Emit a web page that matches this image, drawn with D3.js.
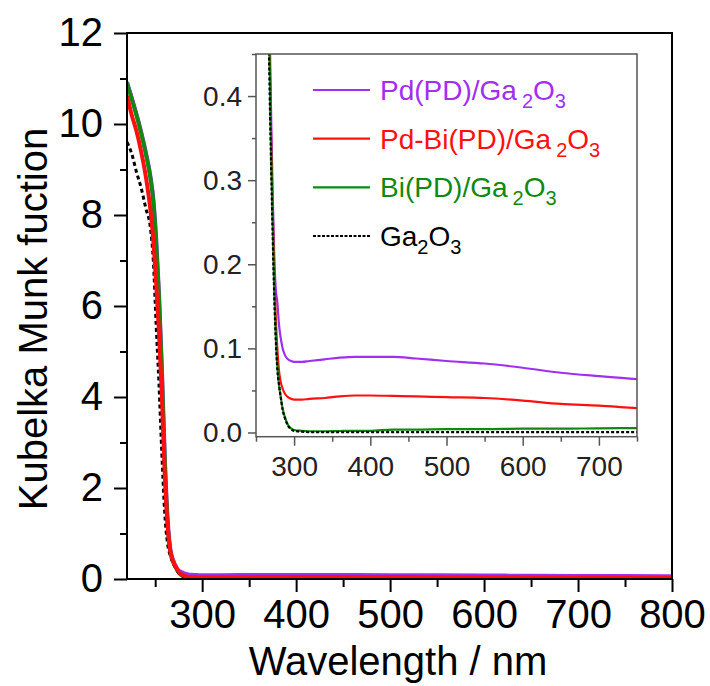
<!DOCTYPE html>
<html>
<head>
<meta charset="utf-8">
<script src="https://cdn.jsdelivr.net/npm/d3@7"></script>
<style>
  body { margin: 0; background: #fff; }
  svg { display: block; font-family: "Liberation Sans", Arial, sans-serif; }
</style>
</head>
<body>
<svg id="chart" width="710" height="686"></svg>
<script>
// wavelength grid (nm), shared by all series
const wavelengths = [220, 225, 230, 235, 240, 245, 248, 251, 254, 257, 260, 263, 266, 268, 270, 272, 274, 276, 278, 280,
  282, 285, 288, 292, 296, 300, 310, 320, 340, 360, 380, 400, 430, 460, 500, 550, 600, 650, 700, 750, 800];

const pdValues = [10.92, 10.58, 10.22, 9.83, 9.38, 8.84, 8.35, 7.5, 6.3, 4.7, 2.8, 1.4, 0.68, 0.48, 0.37, 0.28, 0.21, 0.17, 0.155, 0.13,
  0.115, 0.1, 0.092, 0.087, 0.085, 0.084, 0.084, 0.085, 0.087, 0.089, 0.09, 0.09, 0.09, 0.088, 0.085, 0.082, 0.077, 0.071, 0.067, 0.0635, 0.061];

const pdBiValues = [10.62, 10.2, 9.85, 9.4, 8.85, 8.1, 7.45, 6.5, 5.45, 4.1, 2.4, 1.25, 0.62, 0.45, 0.34, 0.26, 0.19, 0.135, 0.1, 0.075,
  0.062, 0.052, 0.046, 0.042, 0.04, 0.039, 0.039, 0.04, 0.041, 0.043, 0.044, 0.044, 0.0435, 0.043, 0.042, 0.041, 0.038, 0.034, 0.032, 0.029, 0.027];

const biValues = [10.9, 10.55, 10.2, 9.8, 9.35, 8.8, 8.3, 7.4, 6.2, 4.6, 2.7, 1.3, 0.62, 0.44, 0.33, 0.25, 0.17, 0.115, 0.08, 0.058,
  0.045, 0.028, 0.018, 0.009, 0.005, 0.003, 0.002, 0.0015, 0.0015, 0.0018, 0.002, 0.002, 0.0035, 0.0035, 0.004, 0.004, 0.0045, 0.0045, 0.005, 0.0052, 0.0055];

const gaValues = [9.6, 9.35, 8.95, 8.6, 8.15, 7.7, 7.0, 5.6, 4.3, 2.8, 1.5, 0.8, 0.52, 0.4, 0.31, 0.23, 0.16, 0.11, 0.075, 0.058,
  0.045, 0.027, 0.017, 0.008, 0.004, 0.002, 0.001, 0.0005, 0.0005, 0.0005, 0.0005, 0.0005, 0.0005, 0.0005, 0.0005, 0.0005, 0.0005, 0.0005, 0.0005, 0.0005, 0.0005];

const mainXTicks = [300, 400, 500, 600, 700, 800];
const mainXMinor = [250, 350, 450, 550, 650, 750];
const mainYTicks = [0, 2, 4, 6, 8, 10, 12];
const mainYMinor = [1, 3, 5, 7, 9, 11];
const insetXTicks = [300, 400, 500, 600, 700];
const insetXMinor = [250, 350, 450, 550, 650, 750];
const insetYTicks = [0, 0.1, 0.2, 0.3, 0.4];
const insetYMinor = [0.05, 0.15, 0.25, 0.35, 0.45];

const series = [
  { name: "Pd(PD)/Ga", gap: true, values: pdValues, color: "#a030f0", dash: null },
  { name: "Pd-Bi(PD)/Ga", gap: true, values: pdBiValues, color: "#ff1010", dash: null },
  { name: "Bi(PD)/Ga", gap: true, values: biValues, color: "#118811", dash: null },
  { name: "Ga", gap: false, values: gaValues, color: "#000", dash: true }
];

const svg = d3.select("#chart");

function pts(s) { return wavelengths.map((w, i) => [w, s.values[i]]); }

/* ---------- main plot ---------- */
const x = d3.scaleLinear().domain([220, 800]).range([127, 672]);
const y = d3.scaleLinear().domain([0, 12]).range([579, 33]);

svg.append("clipPath").attr("id", "clipMain")
  .append("rect").attr("x", 127).attr("y", 33).attr("width", 545).attr("height", 546);

const mainLine = d3.line().x(d => x(d[0])).y(d => y(d[1])).curve(d3.curveMonotoneX);
const mainG = svg.append("g").attr("clip-path", "url(#clipMain)");
// draw order: purple, green, black, red
[series[0], series[2], series[3], series[1]].forEach(s => {
  mainG.append("path")
    .attr("d", mainLine(pts(s)))
    .attr("fill", "none")
    .attr("stroke", s.color)
    .attr("stroke-width", s.dash ? 3 : 4)
    .attr("stroke-dasharray", s.dash ? "4,3" : null);
});

function styleAxis(g, width, color) {
  g.select(".domain").remove();
  g.selectAll("line").attr("stroke", color).attr("stroke-width", width);
}

const xAxis = svg.append("g").attr("transform", "translate(0,579)")
  .call(d3.axisBottom(x).tickValues(mainXTicks).tickSize(13).tickPadding(8).tickFormat(d3.format("d")));
styleAxis(xAxis, 2, "#000");
xAxis.selectAll("text").attr("font-size", 40).attr("font-family", "Liberation Sans, Arial").attr("fill", "#000");
svg.append("g").attr("transform", "translate(0,579)")
  .call(d3.axisBottom(x).tickValues(mainXMinor).tickSize(8).tickFormat(""))
  .call(g => styleAxis(g, 2, "#000"));

const yAxis = svg.append("g").attr("transform", "translate(127,0)")
  .call(d3.axisLeft(y).tickValues(mainYTicks).tickSize(13).tickPadding(11).tickFormat(d3.format("d")));
styleAxis(yAxis, 2, "#000");
yAxis.selectAll("text").attr("font-size", 40).attr("font-family", "Liberation Sans, Arial").attr("fill", "#000");
svg.append("g").attr("transform", "translate(127,0)")
  .call(d3.axisLeft(y).tickValues(mainYMinor).tickSize(7).tickFormat(""))
  .call(g => styleAxis(g, 2, "#000"));

svg.append("rect").attr("x", 127).attr("y", 33).attr("width", 545).attr("height", 546)
  .attr("fill", "none").attr("stroke", "#000").attr("stroke-width", 2);

svg.append("text").attr("x", 398).attr("y", 675).attr("text-anchor", "middle")
  .attr("font-size", 40).text("Wavelength / nm");
svg.append("text").attr("transform", "translate(47,319) rotate(-90)").attr("text-anchor", "middle")
  .attr("font-size", 40).text("Kubelka Munk fuction");

/* ---------- inset ---------- */
const ix = d3.scaleLinear().domain([250, 750]).range([256, 637]);
const iy = d3.scaleLinear().domain([-0.005, 0.45]).range([436.7, 54]);

svg.append("rect").attr("x", 256).attr("y", 54).attr("width", 381).attr("height", 382.7).attr("fill", "#fff");

svg.append("clipPath").attr("id", "clipInset")
  .append("rect").attr("x", 256).attr("y", 54).attr("width", 381).attr("height", 382.7);

const insetLine = d3.line().x(d => ix(d[0])).y(d => iy(d[1])).curve(d3.curveMonotoneX);
const insetG = svg.append("g").attr("clip-path", "url(#clipInset)");
[series[0], series[1], series[2], series[3]].forEach(s => {
  insetG.append("path")
    .attr("d", insetLine(pts(s).filter(d => d[0] >= 250)))
    .attr("fill", "none")
    .attr("stroke", s.color)
    .attr("stroke-width", 2.2)
    .attr("stroke-dasharray", s.dash ? "3,2" : null);
});

const ixAxis = svg.append("g").attr("transform", "translate(0,436.7)")
  .call(d3.axisBottom(ix).tickValues(insetXTicks).tickSize(9).tickPadding(10).tickFormat(d3.format("d")));
styleAxis(ixAxis, 1.5, "#555");
ixAxis.selectAll("text").attr("font-size", 28).attr("font-family", "Liberation Sans, Arial").attr("fill", "#222");
svg.append("g").attr("transform", "translate(0,436.7)")
  .call(d3.axisBottom(ix).tickValues(insetXMinor).tickSize(5).tickFormat(""))
  .call(g => styleAxis(g, 1.5, "#555"));

const iyAxis = svg.append("g").attr("transform", "translate(256,0)")
  .call(d3.axisLeft(iy).tickValues(insetYTicks).tickSize(8).tickPadding(6).tickFormat(d3.format(".1f")));
styleAxis(iyAxis, 1.5, "#555");
iyAxis.selectAll("text").attr("font-size", 28).attr("font-family", "Liberation Sans, Arial").attr("fill", "#222");
svg.append("g").attr("transform", "translate(256,0)")
  .call(d3.axisLeft(iy).tickValues(insetYMinor).tickSize(4).tickFormat(""))
  .call(g => styleAxis(g, 1.5, "#555"));

svg.append("rect").attr("x", 256).attr("y", 54).attr("width", 381).attr("height", 382.7)
  .attr("fill", "none").attr("stroke", "#555").attr("stroke-width", 1.5);

/* ---------- legend ---------- */
const legend = svg.append("g");
series.forEach((s, i) => {
  const ly = 90 + i * 48.7;
  legend.append("line").attr("x1", 313).attr("x2", 370).attr("y1", ly).attr("y2", ly)
    .attr("stroke", s.color).attr("stroke-width", s.dash ? 2 : 2.2)
    .attr("stroke-dasharray", s.dash ? "3,1.5" : null);
  const t = legend.append("text").attr("x", 380).attr("y", ly + 10)
    .attr("font-size", 28).attr("fill", s.color);
  t.append("tspan").text(s.name);
  t.append("tspan").attr("font-size", 20).attr("dx", s.gap ? 5 : 0).attr("dy", 8).text("2");
  t.append("tspan").attr("dy", -8).text("O");
  t.append("tspan").attr("font-size", 20).attr("dy", 8).text("3");
});
</script>
</body>
</html>
